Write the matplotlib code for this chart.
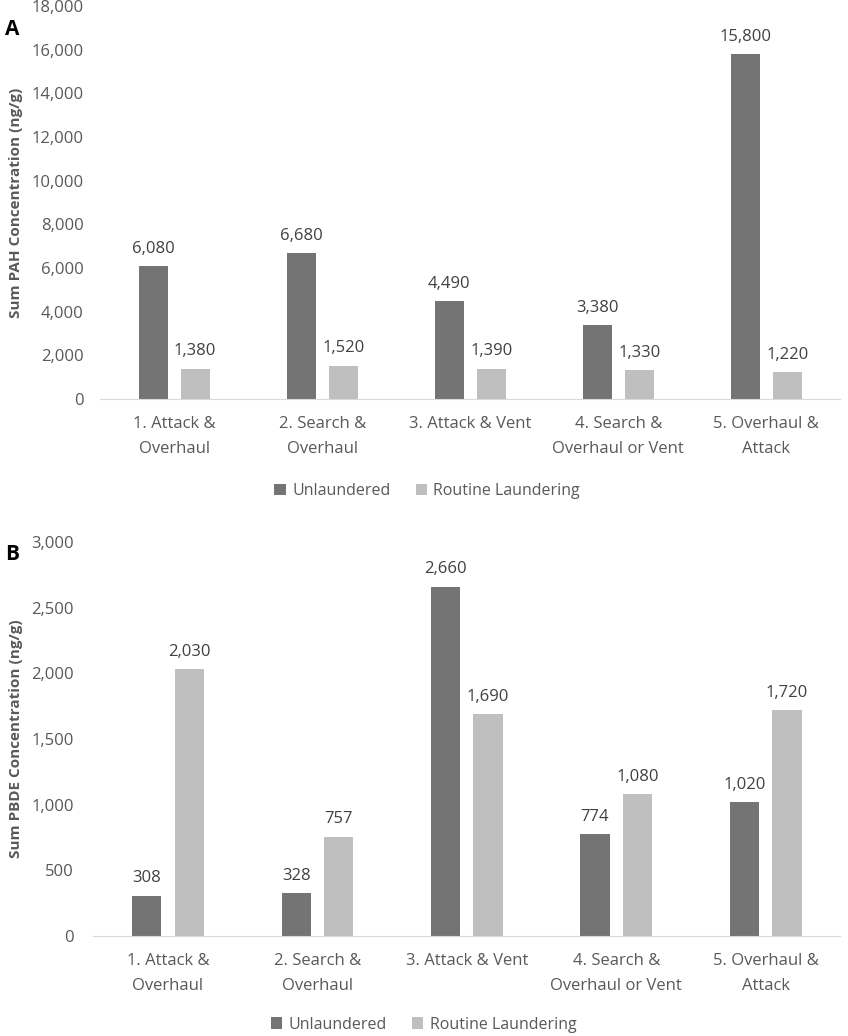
import matplotlib
matplotlib.use("Agg")
import matplotlib.pyplot as plt
import numpy as np

categories = ["1. Attack &\nOverhaul", "2. Search &\nOverhaul", "3. Attack & Vent",
              "4. Search &\nOverhaul or Vent", "5. Overhaul &\nAttack"]
series_names = ["Unlaundered", "Routine Laundering"]
pah_unlaundered = [6080, 6680, 4490, 3380, 15800]
pah_routine = [1380, 1520, 1390, 1330, 1220]
pbde_unlaundered = [308, 328, 2660, 774, 1020]
pbde_routine = [2030, 757, 1690, 1080, 1720]
pah_ticks = list(range(0, 18001, 2000))
pbde_ticks = list(range(0, 3001, 500))

plt.rcParams['font.family'] = ['Open Sans', 'DejaVu Sans']
DARK = "#747474"
LIGHT = "#bfbfbf"
TXT = "#595959"
FS = 12

fig = plt.figure(figsize=(8.48, 10.36), dpi=100)

def panel(rect, un, rt, ticks, ylabel, letter, letter_y, legend_y, label_x, ypad):
    ax = fig.add_axes(rect)
    x = np.arange(len(categories))
    w = 0.196
    off = 0.142
    ax.bar(x - off, un, w, color=DARK, label=series_names[0])
    ax.bar(x + off, rt, w, color=LIGHT, label=series_names[1])
    ymax = ticks[-1]
    for xs, vals in ((x - off, un), (x + off, rt)):
        for xi, v in zip(xs, vals):
            ax.annotate(f"{v:,}", (xi, v), xytext=(0, 12.5), textcoords="offset points",
                        ha="center", va="center", fontsize=FS, color="#404040")
    ax.set_xlim(-0.5, len(categories) - 0.5)
    ax.set_ylim(0, ymax)
    ax.set_yticks(ticks)
    ax.set_yticklabels([f"{t:,}" for t in ticks])
    ax.set_xticks(x)
    ax.set_xticklabels(categories, fontsize=FS, color=TXT, linespacing=1.75)
    ax.tick_params(axis="y", length=0, labelsize=FS, labelcolor=TXT, pad=ypad)
    ax.tick_params(axis="x", length=0, pad=12)
    for s in ["top", "right", "left"]:
        ax.spines[s].set_visible(False)
    ax.spines["bottom"].set_color("#d9d9d9")
    ax.set_ylabel(ylabel, fontsize=11, fontweight="bold", color=TXT)
    ax.yaxis.set_label_coords(label_x, 0.5)
    fig.text(0.006, letter_y, letter, fontsize=15, fontweight="bold", color="black")
    ax.legend(loc="center", bbox_to_anchor=(0.442, legend_y), ncol=2, frameon=False,
              fontsize=11.5, labelcolor=TXT, handlelength=0.7, handleheight=0.7,
              columnspacing=1.6, handletextpad=0.4)
    return ax

panel([0.118, 0.6149, 0.873, 0.3793], pah_unlaundered, pah_routine, pah_ticks,
      "Sum PAH Concentration (ng/g)", "A", 0.966, -0.235, -0.104, 12)
panel([0.110, 0.0965, 0.881, 0.3803], pbde_unlaundered, pbde_routine, pbde_ticks,
      "Sum PBDE Concentration (ng/g)", "B", 0.459, -0.225, -0.094, 14)

fig.savefig("out.png", dpi=100)
